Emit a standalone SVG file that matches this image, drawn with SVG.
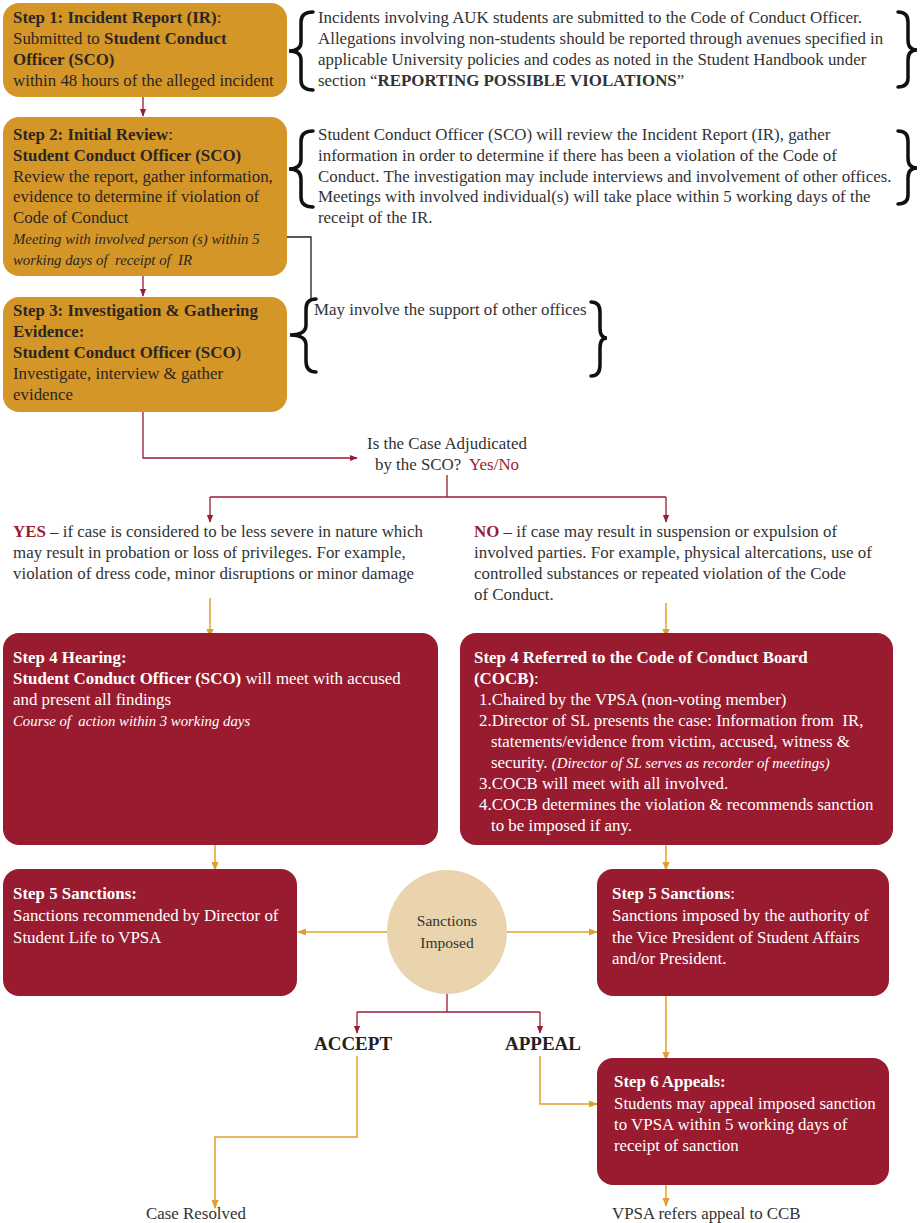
<svg xmlns="http://www.w3.org/2000/svg" width="921" height="1223" viewBox="0 0 921 1223">
<style>
text{font-family:"Liberation Serif","DejaVu Serif",serif;font-size:16.9px;fill:#333}
.dk{fill:#2b2622}
.w{fill:#fff}
.b{font-weight:bold}
.i{font-style:italic;font-size:14.8px}
.r{fill:#9b1b30}
.ob{fill:#d59628}
.rb{fill:#981b2f}
.brace{fill:none;stroke:#111;stroke-width:3.5;stroke-linecap:round}
.lr{fill:none;stroke:#9b1b30;stroke-width:1.3}
.lo{fill:none;stroke:#e0a030;stroke-width:1.5}
.lk{fill:none;stroke:#222;stroke-width:1.3}
.c{text-anchor:middle}
.sm{font-size:15.5px}
.big{font-size:19px;font-weight:bold;fill:#222}
</style>
<defs>
<marker id="ar" viewBox="0 0 10 10" refX="9" refY="5" markerWidth="6" markerHeight="6" orient="auto"><path d="M0,1 L10,5 L0,9 z" fill="#9b1b30"/></marker>
<marker id="ao" viewBox="0 0 10 10" refX="9" refY="5" markerWidth="6" markerHeight="6" orient="auto"><path d="M0,1 L10,5 L0,9 z" fill="#e0a030"/></marker>
</defs>
<rect width="921" height="1223" fill="#fff"/>

<g id="connectors">
<path class="lr" d="M143,97 V116" marker-end="url(#ar)"/>
<path class="lr" d="M143,276 V296" marker-end="url(#ar)"/>
<path class="lk" d="M287,237 H311 V298"/>
<path class="lr" d="M143,412 V458 H357" marker-end="url(#ar)"/>
<path class="lr" d="M447,475 V497"/>
<path class="lr" d="M210,497 H666"/>
<path class="lr" d="M210,497 V522" marker-end="url(#ar)"/>
<path class="lr" d="M666,497 V522" marker-end="url(#ar)"/>
<path class="lo" d="M210,598 V637" marker-end="url(#ao)"/>
<path class="lo" d="M666,603 V637" marker-end="url(#ao)"/>
<path class="lo" d="M215,845 V870" marker-end="url(#ao)"/>
<path class="lo" d="M666,845 V870" marker-end="url(#ao)"/>
<path class="lo" d="M387,932 H298" marker-end="url(#ao)"/>
<path class="lo" d="M507,932 H597" marker-end="url(#ao)"/>
<path class="lr" d="M447,994 V1012"/>
<path class="lr" d="M357,1012 H540"/>
<path class="lr" d="M357,1012 V1033" marker-end="url(#ar)"/>
<path class="lr" d="M540,1012 V1033" marker-end="url(#ar)"/>
<path class="lo" d="M357,1056 V1137 H215 V1208" marker-end="url(#ao)"/>
<path class="lo" d="M540,1056 V1104 H597" marker-end="url(#ao)"/>
<path class="lo" d="M666,996 V1060" marker-end="url(#ao)"/>
<path class="lo" d="M666,1185 V1206" marker-end="url(#ao)"/>
</g>

<g id="step1">
<rect class="ob" x="3" y="3" width="284" height="94" rx="16"/>
<text x="13" y="23" class="dk"><tspan class="b">Step 1: Incident Report (IR)</tspan>:</text>
<text x="13" y="44" class="dk">Submitted to <tspan class="b">Student Conduct</tspan></text>
<text x="13" y="65" class="dk b">Officer (SCO)</text>
<text x="13" y="86" class="dk">within 48 hours of the alleged incident</text>
</g>

<g id="note1">
<path class="brace" d="M313,12 Q301,12 301,22 L301,42 Q301,51 289,51 Q301,51 301,60 L301,80 Q301,90 313,90"/>
<text x="318" y="23">Incidents involving AUK students are submitted to the Code of Conduct Officer.</text>
<text x="318" y="44">Allegations involving non-students should be reported through avenues specified in</text>
<text x="318" y="65">applicable University policies and codes as noted in the Student Handbook under</text>
<text x="318" y="86">section “<tspan class="b">REPORTING POSSIBLE VIOLATIONS</tspan>”</text>
<path class="brace" d="M898,12 Q908,12 908,22 L908,40 Q908,50 917,50 Q908,50 908,60 L908,78 Q908,87 898,87"/>
</g>

<g id="step2">
<rect class="ob" x="3" y="117" width="284" height="159" rx="16"/>
<text x="13" y="140" class="dk"><tspan class="b">Step 2: Initial Review</tspan>:</text>
<text x="13" y="161" class="dk b">Student Conduct Officer (SCO)</text>
<text x="13" y="182" class="dk">Review the report, gather information,</text>
<text x="13" y="202" class="dk">evidence to determine if violation of</text>
<text x="13" y="223" class="dk">Code of Conduct</text>
<text x="13" y="244" class="dk i">Meeting with involved person (s) within 5</text>
<text x="13" y="265" class="dk i" xml:space="preserve">working days of  receipt of  IR</text>
</g>

<g id="note2">
<path class="brace" d="M313,131 Q301,131 301,141 L301,159 Q301,169 289,169 Q301,169 301,179 L301,197 Q301,207 313,207"/>
<text x="318" y="140">Student Conduct Officer (SCO) will review the Incident Report (IR), gather</text>
<text x="318" y="161">information in order to determine if there has been a violation of the Code of</text>
<text x="318" y="182">Conduct. The investigation may include interviews and involvement of other offices.</text>
<text x="318" y="202">Meetings with involved individual(s) will take place within 5 working days of the</text>
<text x="318" y="223">receipt of the IR.</text>
<path class="brace" d="M898,131 Q908,131 908,141 L908,158 Q908,168 917,168 Q908,168 908,178 L908,195 Q908,204 898,204"/>
</g>

<g id="step3">
<rect class="ob" x="3" y="297" width="284" height="115" rx="16"/>
<text x="13" y="316" class="dk b">Step 3: Investigation &amp; Gathering</text>
<text x="13" y="337" class="dk b">Evidence:</text>
<text x="13" y="358" class="dk"><tspan class="b">Student Conduct Officer (SCO</tspan>)</text>
<text x="13" y="379" class="dk">Investigate, interview &amp; gather</text>
<text x="13" y="400" class="dk">evidence</text>
</g>

<g id="note3">
<path class="brace" d="M316,299 Q306,299 306,309 L306,325 Q306,335 290,335 Q306,335 306,345 L306,361 Q306,372 316,372"/>
<text x="314" y="315">May involve the support of other offices</text>
<path class="brace" d="M591,302 Q600,302 600,312 L600,328 Q600,338 607,338 Q600,338 600,348 L600,365 Q600,376 591,376"/>
</g>

<g id="decision">
<text x="447" y="449" class="c">Is the Case Adjudicated</text>
<text x="447" y="470" class="c" xml:space="preserve">by the SCO?  <tspan class="r">Yes/No</tspan></text>
</g>

<g id="yes">
<text x="13" y="537"><tspan class="r b">YES</tspan> – if case is considered to be less severe in nature which</text>
<text x="13" y="558">may result in probation or loss of privileges. For example,</text>
<text x="13" y="579">violation of dress code, minor disruptions or minor damage</text>
</g>

<g id="no">
<text x="474" y="537"><tspan class="r b">NO</tspan> – if case may result in suspension or expulsion of</text>
<text x="474" y="558">involved parties. For example, physical altercations, use of</text>
<text x="474" y="579">controlled substances or repeated violation of the Code</text>
<text x="474" y="600">of Conduct.</text>
</g>

<g id="step4-hearing">
<rect class="rb" x="3" y="633" width="435" height="212" rx="16"/>
<text x="13" y="663" class="w b">Step 4 Hearing:</text>
<text x="13" y="684" class="w"><tspan class="b">Student Conduct Officer (SCO)</tspan> will meet with accused</text>
<text x="13" y="705" class="w">and present all findings</text>
<text x="13" y="726" class="w i" xml:space="preserve">Course of  action within 3 working days</text>
</g>

<g id="step4-cocb">
<rect class="rb" x="460" y="633" width="433" height="212" rx="16"/>
<text x="474" y="663" class="w b">Step 4 Referred to the Code of Conduct Board</text>
<text x="474" y="684" class="w"><tspan class="b">(COCB)</tspan>:</text>
<text x="479" y="705" class="w">1.Chaired by the VPSA (non-voting member)</text>
<text x="479" y="726" class="w" xml:space="preserve">2.Director of SL presents the case: Information from  IR,</text>
<text x="491" y="747" class="w">statements/evidence from victim, accused, witness &amp;</text>
<text x="491" y="768" class="w">security. <tspan class="i">(Director of SL serves as recorder of meetings)</tspan></text>
<text x="479" y="789" class="w">3.COCB will meet with all involved.</text>
<text x="479" y="810" class="w">4.COCB determines the violation &amp; recommends sanction</text>
<text x="491" y="831" class="w">to be imposed if any.</text>
</g>

<g id="step5-left">
<rect class="rb" x="3" y="869" width="294" height="127" rx="16"/>
<text x="13" y="899" class="w b">Step 5 Sanctions:</text>
<text x="13" y="921" class="w">Sanctions recommended by Director of</text>
<text x="13" y="943" class="w">Student Life to VPSA</text>
</g>

<g id="sanctions-imposed">
<ellipse cx="447" cy="932" rx="60" ry="62" fill="#e9d4ae"/>
<text x="447" y="926" class="c sm">Sanctions</text>
<text x="447" y="948" class="c sm">Imposed</text>
</g>

<g id="step5-right">
<rect class="rb" x="597" y="869" width="292" height="127" rx="16"/>
<text x="612" y="899" class="w"><tspan class="b">Step 5 Sanctions</tspan>:</text>
<text x="612" y="921" class="w">Sanctions imposed by the authority of</text>
<text x="612" y="943" class="w">the Vice President of Student Affairs</text>
<text x="612" y="964" class="w">and/or President.</text>
</g>

<g id="accept"><text x="353" y="1050" class="c big">ACCEPT</text></g>
<g id="appeal"><text x="543" y="1050" class="c big">APPEAL</text></g>

<g id="step6">
<rect class="rb" x="597" y="1058" width="292" height="127" rx="16"/>
<text x="614" y="1087" class="w b">Step 6 Appeals:</text>
<text x="614" y="1109" class="w">Students may appeal imposed sanction</text>
<text x="614" y="1130" class="w">to VPSA within 5 working days of</text>
<text x="614" y="1151" class="w">receipt of sanction</text>
</g>

<g id="case-resolved"><text x="196" y="1219" class="c">Case Resolved</text></g>
<g id="vpsa-refers"><text x="612" y="1219">VPSA refers appeal to CCB</text></g>
</svg>
